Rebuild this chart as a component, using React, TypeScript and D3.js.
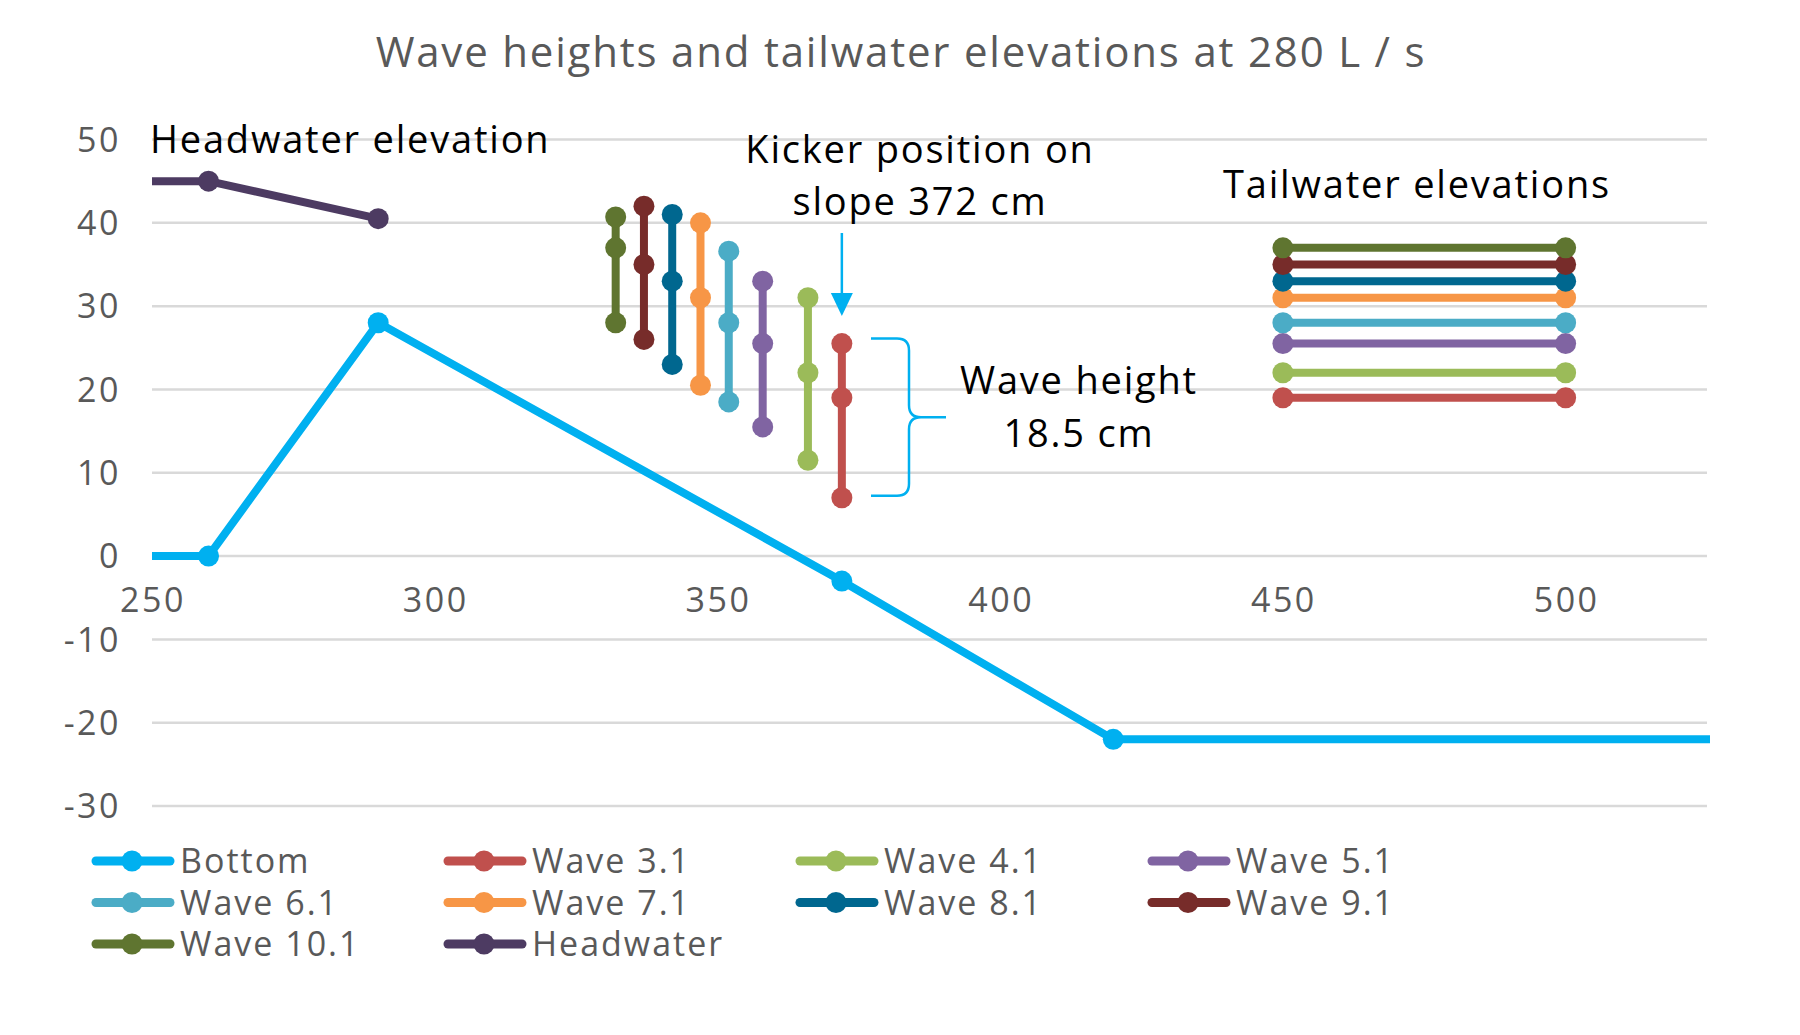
import { useEffect, useRef } from "react";
import * as d3 from "d3";

// ---- data ----
const bottomX = [200, 260, 290, 372, 420, 600];
const bottomY = [0, 0, 28, -3, -22, -22];

const headwaterX = [200, 260, 290];
const headwaterY = [45, 45, 40.5];

const waveNames = ["Wave 3.1", "Wave 4.1", "Wave 5.1", "Wave 6.1", "Wave 7.1", "Wave 8.1", "Wave 9.1", "Wave 10.1"];
const waveX = [372, 366, 358, 352, 347, 342, 337, 332];
const waveHigh = [25.5, 31, 33, 36.6, 40, 41, 42, 40.7];
const waveMid = [19, 22, 25.5, 28, 31, 33, 35, 37];
const waveLow = [7, 11.5, 15.5, 18.5, 20.5, 23, 26, 28];
const waveColors = ["#C0504D", "#9BBB59", "#8064A2", "#4BACC6", "#F79646", "#00678F", "#772C2A", "#5F7530"];

const tailwaterX = [450, 500];

const xTicks = [250, 300, 350, 400, 450, 500];
const yTicks = [-30, -20, -10, 0, 10, 20, 30, 40, 50];

const legendNames = ["Bottom", ...waveNames, "Headwater"];
const legendColors = ["#00B0F0", ...waveColors, "#4D3B62"];

const FONT = "'Open Sans', sans-serif";

type Pt = [number, number];

export default function App() {
  const ref = useRef<SVGSVGElement | null>(null);

  useEffect(() => {
    const W = 1800;
    const H = 1035;
    const svg = d3.select(ref.current);
    svg.selectAll("*").remove();
    svg.attr("viewBox", `0 0 ${W} ${H}`);

    const x = d3.scaleLinear().domain([250, 525]).range([152, 1707]);
    const y = d3.scaleLinear().domain([-30, 50]).range([806, 139.5]);

    svg.append("rect").attr("width", W).attr("height", H).attr("fill", "#fff");

    // title
    svg
      .append("text")
      .attr("x", 901)
      .attr("y", 67)
      .attr("text-anchor", "middle")
      .attr("font-family", FONT)
      .attr("font-size", 42)
      .attr("letter-spacing", 1.8)
      .attr("fill", "#595959")
      .text("Wave heights and tailwater elevations at 280 L / s");

    // gridlines + y labels
    yTicks.forEach((t) => {
      svg
        .append("line")
        .attr("x1", x(250))
        .attr("x2", x(525))
        .attr("y1", y(t))
        .attr("y2", y(t))
        .attr("stroke", "#D9D9D9")
        .attr("stroke-width", 2.5);
      svg
        .append("text")
        .attr("x", 121)
        .attr("y", y(t))
        .attr("dy", "0.36em")
        .attr("text-anchor", "end")
        .attr("font-family", FONT)
        .attr("font-size", 34)
        .attr("letter-spacing", 2.5)
        .attr("fill", "#595959")
        .text(t);
    });

    // x labels sit under the zero line
    xTicks.forEach((t) => {
      svg
        .append("text")
        .attr("x", x(t) + 1)
        .attr("y", y(0) + 44)
        .attr("dy", "0.36em")
        .attr("text-anchor", "middle")
        .attr("font-family", FONT)
        .attr("font-size", 34)
        .attr("letter-spacing", 2.5)
        .attr("fill", "#595959")
        .text(t);
    });

    const clipId = "plotClip";
    svg
      .append("defs")
      .append("clipPath")
      .attr("id", clipId)
      .append("rect")
      .attr("x", x(250))
      .attr("y", 0)
      .attr("width", x(525) - x(250) + 3)
      .attr("height", H);

    const plot = svg.append("g").attr("clip-path", `url(#${clipId})`);
    const line = d3
      .line<Pt>()
      .x((d) => x(d[0]))
      .y((d) => y(d[1]));

    const drawSeries = (pts: Pt[], color: string) => {
      plot
        .append("path")
        .datum(pts)
        .attr("fill", "none")
        .attr("stroke", color)
        .attr("stroke-width", 8)
        .attr("stroke-linejoin", "round")
        .attr("d", line);
      plot
        .selectAll(null)
        .data(pts)
        .join("circle")
        .attr("cx", (d) => x(d[0]))
        .attr("cy", (d) => y(d[1]))
        .attr("r", 10.5)
        .attr("fill", color);
    };

    drawSeries(
      bottomX.map((v, i) => [v, bottomY[i]] as Pt),
      legendColors[0]
    );

    waveNames.forEach((_, i) => {
      const c = waveColors[i];
      drawSeries(
        [
          [waveX[i], waveHigh[i]],
          [waveX[i], waveMid[i]],
          [waveX[i], waveLow[i]],
        ],
        c
      );
      drawSeries(
        tailwaterX.map((v) => [v, waveMid[i]] as Pt),
        c
      );
    });

    drawSeries(
      headwaterX.map((v, i) => [v, headwaterY[i]] as Pt),
      legendColors[legendColors.length - 1]
    );

    // annotations
    const note = (tx: number, ty: number, s: string, anchor = "middle") =>
      svg
        .append("text")
        .attr("x", tx)
        .attr("y", ty)
        .attr("text-anchor", anchor)
        .attr("font-family", FONT)
        .attr("font-size", 38)
        .attr("letter-spacing", 1.8)
        .attr("fill", "#000")
        .text(s);

    note(150, 153, "Headwater elevation", "start");
    note(920, 163, "Kicker position on");
    note(920, 215, "slope 372 cm");
    note(1417, 198, "Tailwater elevations");
    note(1079, 394, "Wave height");
    note(1079, 447, "18.5 cm");

    // kicker arrow
    const ax = x(372);
    svg
      .append("line")
      .attr("x1", ax)
      .attr("x2", ax)
      .attr("y1", 233)
      .attr("y2", 298)
      .attr("stroke", "#00B0F0")
      .attr("stroke-width", 2.5);
    svg
      .append("path")
      .attr("d", `M${ax - 11},293 L${ax + 11},293 L${ax},316 Z`)
      .attr("fill", "#00B0F0");

    // brace spanning wave 3.1
    const top = y(waveHigh[0]) - 5;
    const bot = y(waveLow[0]) - 2;
    const mid = (top + bot) / 2;
    const bx0 = 871;
    const bx1 = 909;
    const bx2 = 946;
    const r = 12;
    svg
      .append("path")
      .attr(
        "d",
        `M${bx0},${top} H${bx1 - r} Q${bx1},${top} ${bx1},${top + r} V${mid - r} Q${bx1},${mid} ${bx1 + r},${mid} H${bx2} ` +
          `M${bx1 + r},${mid} Q${bx1},${mid} ${bx1},${mid + r} V${bot - r} Q${bx1},${bot} ${bx1 - r},${bot} H${bx0}`
      )
      .attr("fill", "none")
      .attr("stroke", "#00B0F0")
      .attr("stroke-width", 2.5);

    // legend
    legendNames.forEach((name, i) => {
      const col = i % 4;
      const row = Math.floor(i / 4);
      const lx = 92 + col * 352;
      const ly = 861 + row * 41.5;
      const g = svg.append("g").attr("transform", `translate(${lx},${ly})`);
      g.append("line")
        .attr("x1", 4)
        .attr("x2", 78)
        .attr("stroke", legendColors[i])
        .attr("stroke-width", 9)
        .attr("stroke-linecap", "round");
      g.append("circle").attr("cx", 40).attr("r", 10.5).attr("fill", legendColors[i]);
      g.append("text")
        .attr("x", 88)
        .attr("dy", "0.36em")
        .attr("font-family", FONT)
        .attr("font-size", 34)
        .attr("letter-spacing", 2)
        .attr("fill", "#595959")
        .text(name);
    });
  }, []);

  return <svg ref={ref} width={1800} height={1035} style={{ position: "absolute", left: 0, top: 0 }} />;
}
